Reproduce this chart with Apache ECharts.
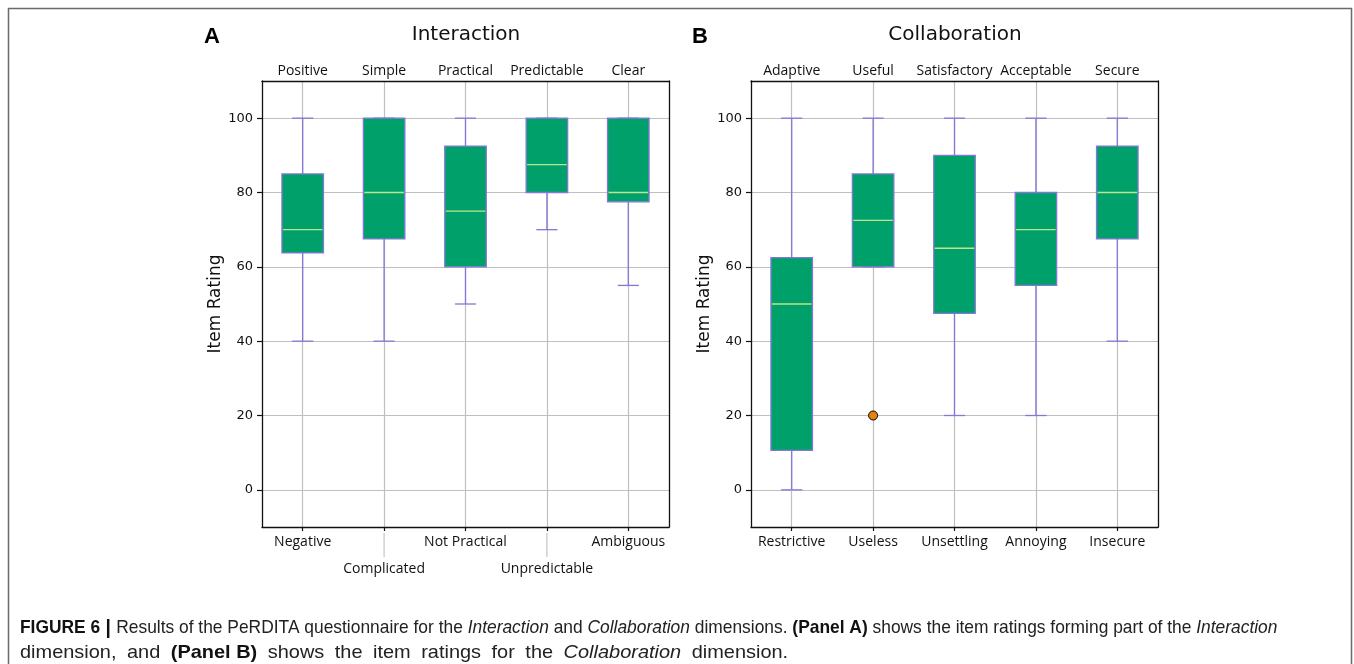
<!DOCTYPE html>
<html><head><meta charset="utf-8">
<script src="https://cdn.jsdelivr.net/npm/echarts@6/dist/echarts.min.js"></script>
<style>html,body{margin:0;padding:0;background:#fff}#c{width:1354px;height:664px}</style>
</head><body><div id="c"></div>
<script>
// ---- Data ----
const topLabelsA = ['Positive', 'Simple', 'Practical', 'Predictable', 'Clear'];
const bottomLabelsA = ['Negative', 'Complicated', 'Not Practical', 'Unpredictable', 'Ambiguous'];
const topLabelsB = ['Adaptive', 'Useful', 'Satisfactory', 'Acceptable', 'Secure'];
const bottomLabelsB = ['Restrictive', 'Useless', 'Unsettling', 'Annoying', 'Insecure'];

const minA = [40, 40, 50, 70, 55];
const q1A = [63.75, 67.5, 60, 80, 77.5];
const medA = [70, 80, 75, 87.5, 80];
const q3A = [85, 100, 92.5, 100, 100];
const maxA = [100, 100, 100, 100, 100];

const minB = [0, 60, 20, 20, 40];
const q1B = [10.6, 60, 47.5, 55, 67.5];
const medB = [50, 72.5, 65, 70, 80];
const q3B = [62.5, 85, 90, 80, 92.5];
const maxB = [100, 100, 100, 100, 100];

const outliersB = [[1, 20]]; // [category index, value]
const yTicks = [0, 20, 40, 60, 80, 100];

// ---- Styles ----
const FILL = '#00A06B', EDGE = '#8478D6', MEDIAN = '#BDE58A', GRIDC = '#bfbfbf';
const SANS = 'DejaVu Sans', CAT = 'Open Sans';

function rows(mn, q1, md, q3, mx) {
  return mn.map((v, i) => [i, v, q1[i], md[i], q3[i], mx[i]]);
}

function boxRender(params, api) {
  const i = api.value(0);
  const ys = [1, 2, 3, 4, 5].map(k => api.coord([i, api.value(k)])[1]);
  const x = api.coord([i, api.value(3)])[0];
  const band = api.size([1, 0])[0];
  const bw = band * 0.51, cw = band * 0.26;
  const [yMin, yQ1, yMed, yQ3, yMax] = ys;
  const ls = { stroke: EDGE, lineWidth: 1.3 };
  return { type: 'group', children: [
    { type: 'line', shape: { x1: x, y1: yQ1, x2: x, y2: yMin }, style: ls },
    { type: 'line', shape: { x1: x, y1: yQ3, x2: x, y2: yMax }, style: ls },
    { type: 'line', shape: { x1: x - cw / 2, y1: yMin, x2: x + cw / 2, y2: yMin }, style: ls },
    { type: 'line', shape: { x1: x - cw / 2, y1: yMax, x2: x + cw / 2, y2: yMax }, style: ls },
    { type: 'rect', shape: { x: x - bw / 2, y: yQ3, width: bw, height: yQ1 - yQ3 }, style: { fill: FILL, stroke: EDGE, lineWidth: 1.3 } },
    { type: 'line', shape: { x1: x - bw / 2 + 1, y1: yMed, x2: x + bw / 2 - 1, y2: yMed }, style: { stroke: MEDIAN, lineWidth: 1.3 } }
  ]};
}

function extRender(params, api) {
  const i = api.value(0);
  const x = api.coord([i, 0])[0];
  const cs = params.coordSys;
  const yb = cs.y + cs.height;
  return { type: 'line', shape: { x1: x, y1: yb + 6, x2: x, y2: yb + 30 }, style: { stroke: '#c8c8c8', lineWidth: 1.3 } };
}

function xBottom(grid, labels, alternate) {
  return {
    type: 'category', gridIndex: grid, position: 'bottom', data: labels, z: 1,
    axisLine: { show: true, onZero: false, lineStyle: { color: '#111', width: 1.3 } },
    axisTick: { show: true, alignWithLabel: true, length: 4, lineStyle: { color: '#111', width: 1.2 } },
    splitLine: { show: true, alignWithLabel: true, lineStyle: { color: GRIDC, width: 1.2 } },
    axisLabel: {
      interval: 0, margin: 2, lineHeight: 27, fontFamily: CAT, fontSize: 14, color: '#111',
      formatter: (v, i) => (alternate && i % 2 === 1) ? '\n' + v : v
    }
  };
}
function xTop(grid, labels) {
  return {
    type: 'category', gridIndex: grid, position: 'top', data: labels, z: 3,
    axisLine: { show: true, onZero: false, lineStyle: { color: '#111', width: 1.3 } },
    axisTick: { show: false }, splitLine: { show: false },
    axisLabel: { interval: 0, margin: 3, fontFamily: CAT, fontSize: 14, color: '#111' }
  };
}
function yLeft(grid) {
  return {
    type: 'value', gridIndex: grid, position: 'left', min: -10, max: 110, splitNumber: 6, z: 0,
    name: 'Item Rating', nameLocation: 'middle', nameGap: 38,
    nameTextStyle: { fontFamily: SANS, fontSize: 17, color: '#111' },
    axisLine: { show: true, onZero: false, lineStyle: { color: '#111', width: 1.3 } },
    axisTick: { show: true, length: 5, customValues: yTicks, lineStyle: { color: '#111', width: 1.2 } },
    axisLabel: { customValues: yTicks, margin: 9, fontFamily: SANS, fontSize: 13, color: '#111' },
    splitLine: { show: true, lineStyle: { color: GRIDC, width: 1.2 } }
  };
}
function yRight(grid) {
  return {
    type: 'value', gridIndex: grid, position: 'right', min: -10, max: 110, splitNumber: 6, z: 3,
    axisLine: { show: true, onZero: false, lineStyle: { color: '#111', width: 1.3 } },
    axisTick: { show: false }, axisLabel: { show: false }, splitLine: { show: false }
  };
}

const CAPF = 19;
const capRich = {
  n: { font: CAPF + 'px "Liberation Sans"', fill: '#222' },
  i: { font: 'italic ' + CAPF + 'px "Liberation Sans"', fill: '#222' },
  b: { font: 'bold ' + CAPF + 'px "Liberation Sans"', fill: '#111' },
  bar: { font: 'bold ' + (CAPF + 2) + 'px "Liberation Sans"', fill: '#111' },
  s: { font: CAPF + 'px "Liberation Sans"', width: 10 }
};
// caption line 2 with widened word spacing
const line2 = [['n', 'dimension,'], ['n', 'and'], ['b', '(Panel B)'], ['n', 'shows'], ['n', 'the'], ['n', 'item'],
  ['n', 'ratings'], ['n', 'for'], ['n', 'the'], ['i', 'Collaboration'], ['n', 'dimension.']]
  .map(([k, w]) => '{' + k + '|' + w + '}').join('{s| }');

const chart = echarts.init(document.getElementById('c'), null, { renderer: 'canvas' });
chart.setOption({
  animation: false,
  backgroundColor: '#fff',
  grid: [
    { left: 262, top: 81, width: 407, height: 446 },
    { left: 751, top: 81, width: 407, height: 446 }
  ],
  xAxis: [xBottom(0, bottomLabelsA, true), xTop(0, topLabelsA), xBottom(1, bottomLabelsB, false), xTop(1, topLabelsB)],
  yAxis: [yLeft(0), yRight(0), yLeft(1), yRight(1)],
  series: [
    { type: 'custom', xAxisIndex: 0, yAxisIndex: 0, renderItem: boxRender, encode: { x: 0, y: [1, 2, 3, 4, 5] },
      data: rows(minA, q1A, medA, q3A, maxA) },
    { type: 'custom', xAxisIndex: 2, yAxisIndex: 2, renderItem: boxRender, encode: { x: 0, y: [1, 2, 3, 4, 5] },
      data: rows(minB, q1B, medB, q3B, maxB) },
    { type: 'custom', xAxisIndex: 0, yAxisIndex: 0, renderItem: extRender, clip: false, silent: true,
      encode: { x: 0, y: 1 },
      data: bottomLabelsA.map((_, i) => [i, 0]).filter(d => d[0] % 2 === 1) },
    { type: 'scatter', xAxisIndex: 2, yAxisIndex: 2, symbol: 'circle', symbolSize: 9, z: 5,
      itemStyle: { color: '#E8820E', borderColor: '#000', borderWidth: 1, opacity: 1 },
      data: outliersB }
  ],
  graphic: [
    { type: 'rect', z: -1, silent: true, shape: { x: 8.5, y: 8.5, width: 1343, height: 720 },
      style: { fill: 'none', stroke: '#6a6a6a', lineWidth: 1.5 } },
    { type: 'text', x: 212, y: 37, style: { text: 'A', font: 'bold 22px "Liberation Sans"', fill: '#000', align: 'center', verticalAlign: 'middle' } },
    { type: 'text', x: 700, y: 37, style: { text: 'B', font: 'bold 22px "Liberation Sans"', fill: '#000', align: 'center', verticalAlign: 'middle' } },
    { type: 'text', x: 466, y: 35, style: { text: 'Interaction', font: '20px "DejaVu Sans"', fill: '#111', align: 'center', verticalAlign: 'middle' } },
    { type: 'text', x: 955, y: 35, style: { text: 'Collaboration', font: '20px "DejaVu Sans"', fill: '#111', align: 'center', verticalAlign: 'middle' } },
    { type: 'text', x: 20, y: 628, scaleX: 0.915, style: {
        text: '{b|FIGURE 6}{bar| | }{n|Results of the PeRDITA questionnaire for the }{i|Interaction}{n| and }{i|Collaboration}{n| dimensions. }{b|(Panel A)}{n| shows the item ratings forming part of the }{i|Interaction}',
        verticalAlign: 'middle', font: CAPF + 'px "Liberation Sans"', fill: '#222', rich: capRich } },
    { type: 'text', x: 20, y: 653, scaleX: 1.05, style: {
        text: line2, verticalAlign: 'middle', font: CAPF + 'px "Liberation Sans"', fill: '#222', rich: capRich } }
  ]
});
</script>
</body></html>
